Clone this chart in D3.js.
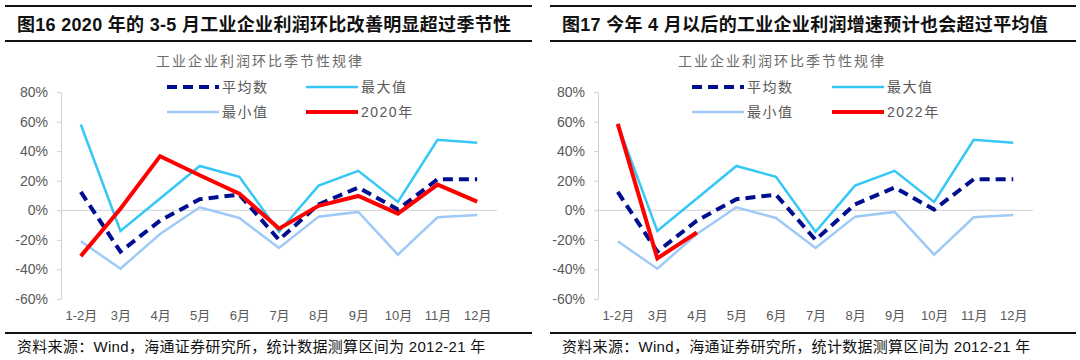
<!DOCTYPE html>
<html><head><meta charset="utf-8">
<script src="https://cdn.jsdelivr.net/npm/d3@7"></script>
<style>
html,body{margin:0;padding:0;background:#fff;}
svg{display:block;}
</style></head>
<body>
<svg id="chart" width="1080" height="360"></svg>
<script>
// ---- data ----
const months = ["1-2月","3月","4月","5月","6月","7月","8月","9月","10月","11月","12月"];
const avgVals = [12.4,-28,-7,7.5,10.6,-20,4,15.4,0.5,21,21];
const maxVals = [58,-14,8,30,22.6,-14.5,16.7,26.7,5.6,47.7,45.6];
const minVals = [-21,-39.5,-16,2,-5.2,-25.5,-4.3,-1.1,-30,-4.7,-3.2];
const y2020Vals = [-31,1,36.6,23.7,11.3,-12.4,3,9.7,-2.3,17.4,5.9];
const y2022Vals = [58.4,-32.5,-15];
const yTicks = [-60,-40,-20,0,20,40,60,80];
const leftTitle = "图16 2020 年的 3-5 月工业企业利润环比改善明显超过季节性";
const rightTitle = "图17 今年 4 月以后的工业企业利润增速预计也会超过平均值";
const subTitle = "工业企业利润环比季节性规律";
const sourceText = "资料来源：Wind，海通证券研究所，统计数据测算区间为 2012-21 年";
const legendNames = ["平均数","最大值","最小值"];

const FONT = '"Liberation Sans", Arial, "Noto Sans CJK SC", sans-serif';
const svg = d3.select("#chart");
svg.append("rect").attr("width",1080).attr("height",360).attr("fill","#fff");

const styles = {
  avg: {color:"#000f8f", width:4, dash:"10,6"},
  max: {color:"#35c8f6", width:2.5, dash:null},
  min: {color:"#9fcaf7", width:2.5, dash:null},
  red: {color:"#ff0000", width:4, dash:null}
};

function panel(cfg){
  const g = svg.append("g");
  // title block
  g.append("line").attr("x1",cfg.boxL).attr("x2",cfg.boxR).attr("y1",6).attr("y2",6)
    .attr("stroke","#111").attr("stroke-width",2);
  g.append("line").attr("x1",cfg.boxL).attr("x2",cfg.boxR).attr("y1",41).attr("y2",41)
    .attr("stroke","#111").attr("stroke-width",2);
  g.append("text").attr("x",cfg.titleX).attr("y",31).text(cfg.title)
    .attr("font-family",FONT).attr("font-size",18).attr("letter-spacing",0.3)
    .attr("font-weight","bold").attr("fill","#111");
  g.append("text").attr("x",cfg.subX).attr("y",66).attr("text-anchor","middle").text(subTitle)
    .attr("font-family",FONT).attr("font-size",14).attr("letter-spacing",2).attr("fill","#6b6b6b");
  // footer
  g.append("line").attr("x1",cfg.boxL).attr("x2",cfg.boxR).attr("y1",333).attr("y2",333)
    .attr("stroke","#111").attr("stroke-width",2);
  g.append("text").attr("x",cfg.titleX).attr("y",352).text(sourceText)
    .attr("font-family",FONT).attr("font-size",15).attr("letter-spacing",0.3).attr("fill","#111");

  const x = d3.scalePoint().domain(months).range([cfg.x0, cfg.x1]).padding(0.5);
  const y = d3.scaleLinear().domain([-60,80]).range([299,92]);

  const ya = g.append("g").attr("transform",`translate(${cfg.x0},0)`)
    .call(d3.axisLeft(y).tickValues(yTicks).tickFormat(d=>d+"%").tickSize(4).tickSizeOuter(0).tickPadding(9));
  ya.selectAll("path,line").attr("stroke","#d0d0d0");
  ya.selectAll("text").attr("font-family",FONT).attr("font-size",14).attr("fill","#595959");

  const xa = g.append("g").attr("transform","translate(0,299)")
    .call(d3.axisBottom(x).tickSize(0).tickPadding(12));
  xa.select(".domain").remove();
  xa.selectAll("text").attr("font-family",FONT).attr("font-size",13).attr("fill","#595959");

  g.append("line").attr("x1",cfg.x0).attr("x2",cfg.x1).attr("y1",y(0)).attr("y2",y(0))
    .attr("stroke","#d0d0d0").attr("stroke-width",1);

  const line = d3.line().x((d,i)=>x(months[i])).y(d=>y(d));
  const series = [
    {vals:minVals, st:styles.min},
    {vals:maxVals, st:styles.max},
    {vals:avgVals, st:styles.avg},
    {vals:cfg.redVals, st:styles.red}
  ];
  series.forEach(s=>{
    g.append("path").datum(s.vals).attr("d",line).attr("fill","none")
      .attr("stroke",s.st.color).attr("stroke-width",s.st.width)
      .attr("stroke-dasharray",s.st.dash).attr("stroke-linejoin","miter");
  });

  // legend
  const leg = [
    {name:legendNames[0], st:styles.avg, x:cfg.legX1, y:87},
    {name:legendNames[1], st:styles.max, x:cfg.legX2, y:87},
    {name:legendNames[2], st:styles.min, x:cfg.legX1, y:112},
    {name:cfg.redName, st:styles.red, x:cfg.legX2, y:112}
  ];
  leg.forEach(l=>{
    g.append("line").attr("x1",l.x).attr("x2",l.x+52).attr("y1",l.y).attr("y2",l.y)
      .attr("stroke",l.st.color).attr("stroke-width",l.st.width).attr("stroke-dasharray",l.st.dash);
    g.append("text").attr("x",l.x+55).attr("y",l.y+5).text(l.name)
      .attr("font-family",FONT).attr("font-size",14).attr("letter-spacing",1.5).attr("fill","#595959");
  });
}

panel({title:leftTitle, boxL:5, boxR:532, titleX:17, subX:260, x0:61, x1:497,
       redVals:y2020Vals, redName:"2020年", legX1:167, legX2:306});
panel({title:rightTitle, boxL:550, boxR:1076, titleX:562, subX:782, x0:598, x1:1033,
       redVals:y2022Vals, redName:"2022年", legX1:692, legX2:832});
</script>
</body></html>
